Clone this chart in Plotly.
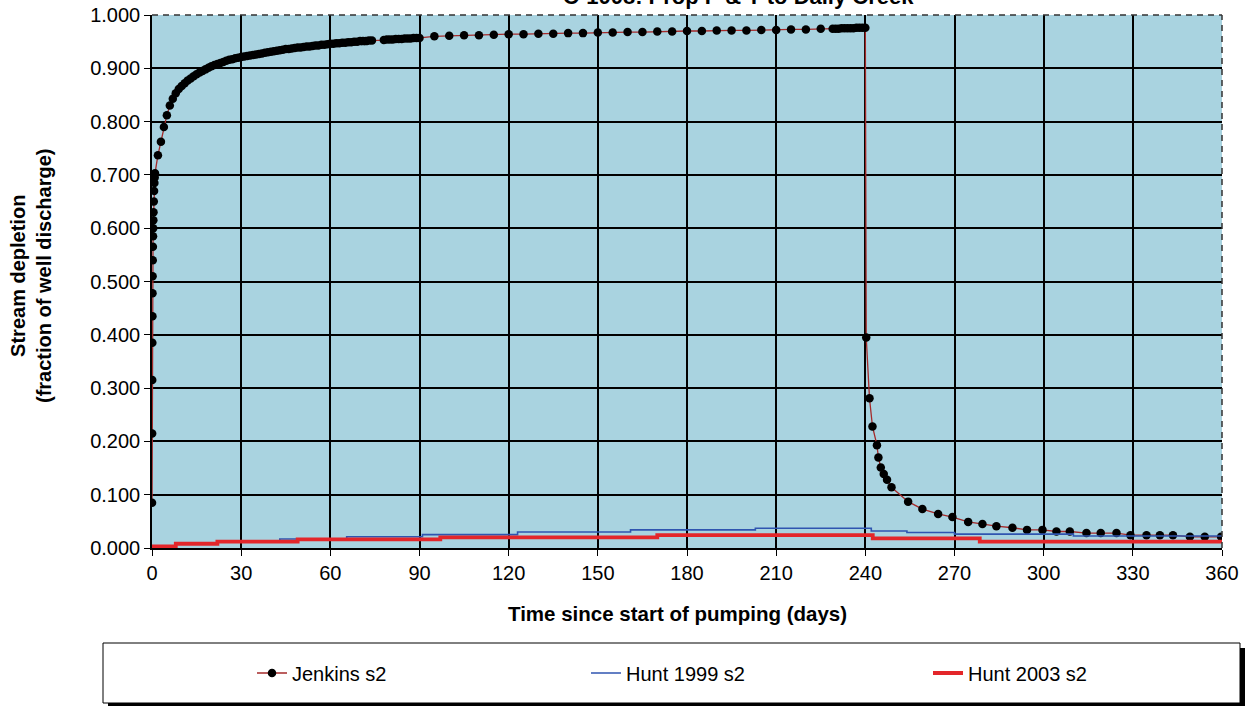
import plotly.graph_objects as go

# ---------------- data ----------------
jenkins_days = [
    0.02, 0.05, 0.08, 0.11, 0.14, 0.17, 0.2, 0.25, 0.3, 0.35, 0.4, 0.45, 0.5, 0.6, 0.7, 0.8, 0.9,
    1, 2, 3, 4, 5, 6, 7, 8, 9, 10, 11, 12, 13, 14, 15, 16, 17, 18, 19, 20,
    21, 22, 23, 24, 25, 26, 27, 28, 29, 30, 31, 32, 33, 34, 35, 36, 37, 38, 39, 40,
    41, 42, 43, 44, 45, 46, 47, 48, 49, 50, 51, 52, 53, 54, 55, 56, 57, 58, 59, 60,
    61, 62, 63, 64, 65, 66, 67, 68, 69, 70, 71, 72, 73, 74,
    78, 79, 80, 81, 82, 83, 84, 85, 86, 87, 88, 89, 90,
    95, 100, 105, 110, 115, 120, 125, 130, 135, 140, 145, 150, 155, 160, 165, 170,
    175, 180, 185, 190, 195, 200, 205, 210, 215, 220, 225,
    229, 230, 231, 232, 233, 234, 235, 236, 237, 238, 239, 240,
    240.3, 241.4, 242.4, 243.9, 244.4, 245.2, 246.2, 247.3, 248.8, 254.4, 259.2,
    264.5, 269.3, 274.6, 279.4, 284.1, 289.5, 294.4, 299.6, 304.3, 308.8, 314.4,
    319.2, 324.5, 329.2, 334.6, 339.1, 343.5, 349.2, 354.2, 359.7,
]
jenkins_vals = [
    0.085, 0.215, 0.315, 0.385, 0.435, 0.478, 0.510, 0.540, 0.565, 0.585, 0.600, 0.615, 0.630, 0.650, 0.670, 0.685, 0.695,
    0.703, 0.737, 0.762, 0.790, 0.812, 0.830, 0.843, 0.853, 0.861, 0.867, 0.872, 0.877, 0.881, 0.885, 0.889, 0.892, 0.895, 0.898, 0.901, 0.904,
    0.906, 0.908, 0.910, 0.912, 0.914, 0.916, 0.917, 0.919, 0.920, 0.921, 0.922, 0.923, 0.924, 0.925, 0.926, 0.927, 0.928, 0.929, 0.930, 0.931,
    0.932, 0.933, 0.934, 0.935, 0.936, 0.936, 0.937, 0.938, 0.939, 0.939, 0.940, 0.941, 0.941, 0.942, 0.943, 0.943, 0.944, 0.944, 0.945, 0.946,
    0.946, 0.947, 0.947, 0.948, 0.948, 0.949, 0.949, 0.950, 0.950, 0.951, 0.951, 0.951, 0.952, 0.952,
    0.953, 0.954, 0.954, 0.954, 0.955, 0.955, 0.955, 0.956, 0.956, 0.956, 0.957, 0.957, 0.957,
    0.960, 0.961, 0.962, 0.962, 0.963, 0.964, 0.964, 0.965, 0.965, 0.966, 0.966, 0.967, 0.967, 0.968, 0.968, 0.969,
    0.969, 0.970, 0.970, 0.971, 0.971, 0.971, 0.972, 0.972, 0.973, 0.973, 0.974,
    0.974, 0.974, 0.974, 0.975, 0.975, 0.975, 0.975, 0.975, 0.976, 0.976, 0.976, 0.976,
    0.395, 0.281, 0.228, 0.193, 0.170, 0.151, 0.139, 0.128, 0.114, 0.087, 0.073,
    0.064, 0.058, 0.049, 0.045, 0.041, 0.038, 0.034, 0.034, 0.031, 0.031, 0.028,
    0.028, 0.028, 0.024, 0.024, 0.024, 0.024, 0.021, 0.021, 0.021,
]

hunt1999_days = [0, 0.5, 8, 22, 43, 65.5, 91, 123, 161, 203, 242, 254, 270, 310, 360]
hunt1999_vals = [0.000, 0.003, 0.008, 0.012, 0.017, 0.021, 0.025, 0.030, 0.034, 0.037, 0.032, 0.029, 0.026, 0.0225, 0.0225]

hunt2003_days = [0, 0.5, 8, 22, 49, 97, 170, 242.5, 278.5, 360]
hunt2003_vals = [0.000, 0.003, 0.008, 0.012, 0.016, 0.020, 0.024, 0.018, 0.012, 0.012]

x_ticks = [0, 30, 60, 90, 120, 150, 180, 210, 240, 270, 300, 330, 360]
y_ticks = [0.0, 0.1, 0.2, 0.3, 0.4, 0.5, 0.6, 0.7, 0.8, 0.9, 1.0]

title_text = "C-1008: Prop P &amp; T to Daily Creek"
x_title = "Time since start of pumping (days)"
y_title = "Stream depletion<br>(fraction of well discharge)"

# ---------------- figure ----------------
W, H = 1248, 706
L, R, T, B = 152, 26, 15, 158
pw, ph = W - L - R, H - T - B

def px_x(p):
    return (p - L) / pw

def px_y(p):
    return (H - B - p) / ph

FONT = "Liberation Sans, Arial, sans-serif"

fig = go.Figure()
fig.add_trace(go.Scatter(
    x=jenkins_days, y=jenkins_vals, name="Jenkins s2", mode="lines+markers",
    line=dict(color="#A52A2A", width=1.3),
    marker=dict(color="black", size=8.5, line=dict(width=0)),
    legend="legend",
))
fig.add_trace(go.Scatter(
    x=hunt1999_days, y=hunt1999_vals, name="Hunt 1999 s2", mode="lines",
    line=dict(color="#2F55B0", width=1.6, shape="hv"),
    legend="legend2",
))
fig.add_trace(go.Scatter(
    x=hunt2003_days, y=hunt2003_vals, name="Hunt 2003 s2", mode="lines",
    line=dict(color="#E3262A", width=3.8, shape="hv"),
    legend="legend3",
))

shapes = [
    # dashed top and right border
    dict(type="line", xref="paper", yref="paper", x0=0, x1=1, y0=1, y1=1,
         line=dict(color="#333333", width=1.5, dash="6px,5px")),
    dict(type="line", xref="paper", yref="paper", x0=1, x1=1, y0=0, y1=1,
         line=dict(color="#333333", width=1.5, dash="6px,5px")),
    # legend box shadow
    dict(type="rect", xref="paper", yref="paper",
         x0=px_x(1240), x1=px_x(1245), y0=px_y(706), y1=px_y(648),
         fillcolor="black", line=dict(width=0)),
    dict(type="rect", xref="paper", yref="paper",
         x0=px_x(108), x1=px_x(1245), y0=px_y(706), y1=px_y(703),
         fillcolor="black", line=dict(width=0)),
    # legend box
    dict(type="rect", xref="paper", yref="paper",
         x0=px_x(103), x1=px_x(1240), y0=px_y(703), y1=px_y(643),
         fillcolor="white", line=dict(color="black", width=1), layer="below"),
]

annotations = [
    dict(text="<b>" + title_text + "</b>", xref="paper", yref="paper",
         x=px_x(738), y=px_y(11), xanchor="center", yanchor="bottom",
         showarrow=False, font=dict(family=FONT, size=22, color="black")),
    dict(text="<b>" + x_title + "</b>", xref="paper", yref="paper",
         x=px_x(677), y=px_y(613), xanchor="center", yanchor="middle",
         showarrow=False, font=dict(family=FONT, size=20.5, color="black")),
    dict(text="<b>" + y_title + "</b>", xref="paper", yref="paper",
         x=px_x(31), y=px_y(276), xanchor="center", yanchor="middle", textangle=-90,
         showarrow=False, font=dict(family=FONT, size=20, color="black")),
]

leg_common = dict(orientation="h", yanchor="middle", xanchor="left",
                  bgcolor="rgba(0,0,0,0)", borderwidth=0, itemwidth=30,
                  font=dict(family=FONT, size=20, color="black"))

fig.update_layout(
    width=W, height=H, autosize=False,
    margin=dict(l=L, r=R, t=T, b=B, pad=0, autoexpand=False),
    paper_bgcolor="white", plot_bgcolor="#A9D3E0",
    font=dict(family=FONT, size=20, color="black"),
    showlegend=True,
    legend=dict(x=px_x(252), y=px_y(673), **leg_common),
    legend2=dict(x=px_x(586), y=px_y(673), **leg_common),
    legend3=dict(x=px_x(928), y=px_y(673), **leg_common),
    shapes=shapes, annotations=annotations,
)
fig.update_xaxes(range=[0, 360], tickvals=x_ticks, ticktext=[str(v) for v in x_ticks],
                 showgrid=True, gridcolor="black", gridwidth=1.5,
                 showline=True, linecolor="black", linewidth=1.5,
                 ticks="outside", ticklen=6, tickcolor="black", zeroline=False,
                 tickfont=dict(family=FONT, size=20, color="black"))
fig.update_yaxes(range=[0, 1], tickvals=y_ticks, ticktext=["%.3f" % v for v in y_ticks],
                 showgrid=True, gridcolor="black", gridwidth=1.5,
                 showline=True, linecolor="black", linewidth=1.5,
                 ticks="outside", ticklen=6, tickcolor="black", zeroline=False,
                 tickfont=dict(family=FONT, size=20, color="black"))

fig.write_html("out.html", config={"displayModeBar": False},
               post_script="document.body.style.margin='0';")
